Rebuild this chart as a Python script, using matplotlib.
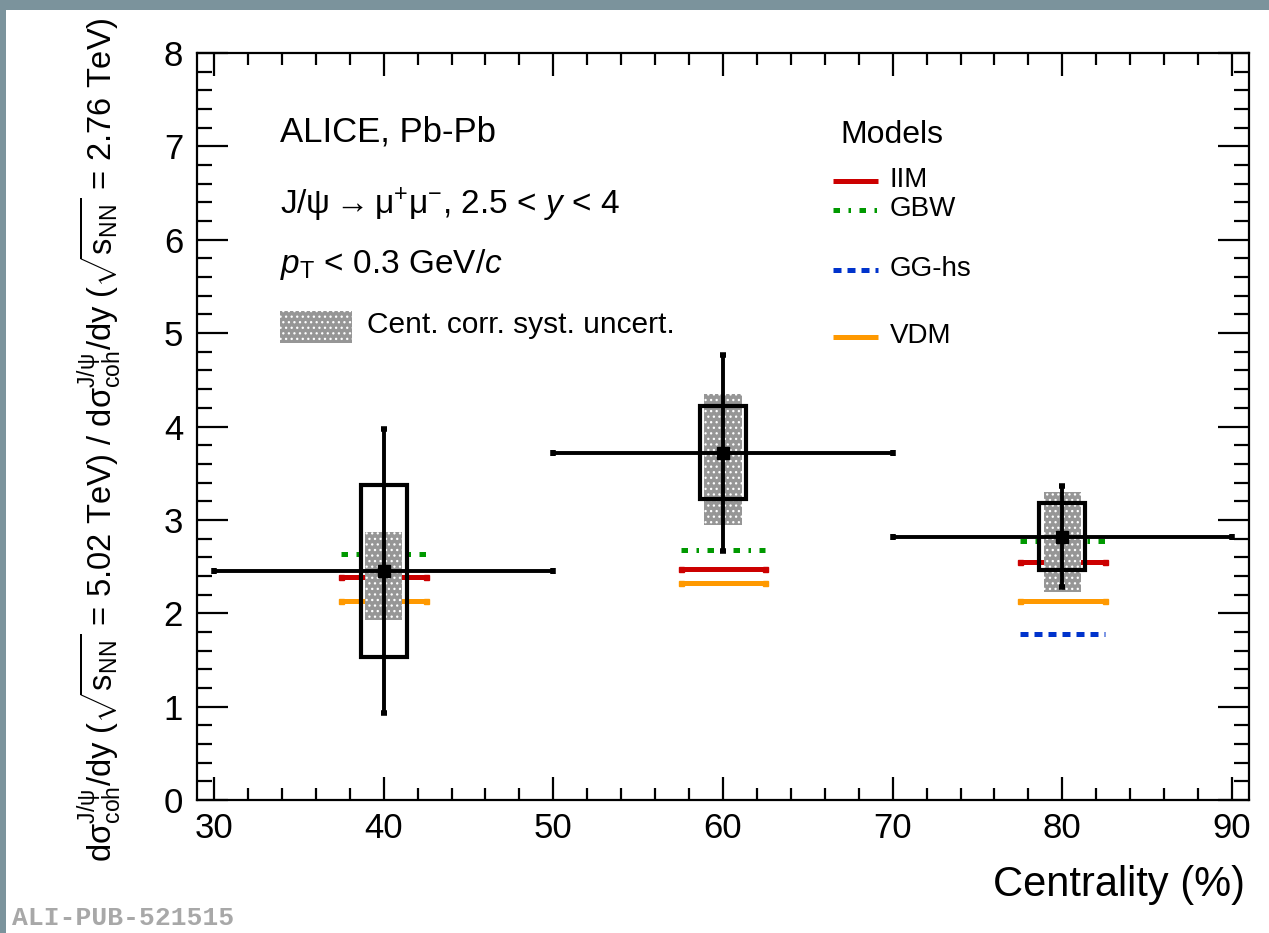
import numpy as np
import matplotlib
matplotlib.use("Agg")
import matplotlib.pyplot as plt
from matplotlib.patches import Rectangle
from matplotlib.ticker import MultipleLocator

# ---- data ----
centrality = [40, 60, 80]
bin_half = [10, 10, 10]
ratio = [2.45, 3.72, 2.82]
stat_err = [1.52, 1.05, 0.54]
syst_uncorr = [0.92, 0.50, 0.36]
syst_corr_up = [0.42, 0.63, 0.48]
syst_corr_dn = [0.52, 0.78, 0.59]

model_names = ["IIM", "GBW", "GG-hs", "VDM"]
model_iim = [2.39, 2.47, 2.55]
model_gbw = [2.63, 2.68, 2.77]
model_gghs = [np.nan, np.nan, 1.78]
model_vdm = [2.13, 2.32, 2.13]
model_half = 2.5

plt.rcParams['font.family'] = ['Liberation Sans', 'DejaVu Sans']
plt.rcParams['mathtext.fontset'] = 'custom'
plt.rcParams['mathtext.rm'] = 'Liberation Sans'
plt.rcParams['mathtext.it'] = 'Liberation Sans:italic'
plt.rcParams['mathtext.bf'] = 'Liberation Sans:bold'
plt.rcParams['hatch.linewidth'] = 0.9

W, H = 1269, 933
fig = plt.figure(figsize=(W / 100, H / 100), dpi=100)
fig.patch.set_facecolor('white')

# grey frame strips
fig.patches.append(Rectangle((0, 1 - 10 / H), 1, 10 / H, transform=fig.transFigure,
                             facecolor='#7b939c', edgecolor='none', zorder=0))
fig.patches.append(Rectangle((0, 0), 6 / W, 1, transform=fig.transFigure,
                             facecolor='#7b939c', edgecolor='none', zorder=0))

L, R, T, B = 197, 1249, 53, 800
ax = fig.add_axes([L / W, 1 - B / H, (R - L) / W, (B - T) / H])
ax.set_xlim(29, 91)
ax.set_ylim(0, 8)


def fx(px):
    return (px - L) / (R - L)


def fy(py):
    return (B - py) / (B - T)


GREY = '#969696'

# model styles
styles = {
    "IIM": dict(color='#cc0000', ls='-'),
    "GBW": dict(color='#009900', ls=(0, (1.3, 1.7, 0.5, 1.7))),
    "GG-hs": dict(color='#0033cc', ls=(0, (1.6, 1.2))),
    "VDM": dict(color='#ff9900', ls='-'),
}
model_vals = {"IIM": model_iim, "GBW": model_gbw, "GG-hs": model_gghs, "VDM": model_vdm}
for name in model_names:
    for c, v in zip(centrality, model_vals[name]):
        if np.isnan(v):
            continue
        ax.plot([c - model_half, c + model_half], [v, v], lw=3.6,
                solid_capstyle='butt', dash_capstyle='butt', zorder=2, **styles[name])
        if styles[name]['ls'] == '-':
            ax.plot([c - model_half, c + model_half], [v, v], ls='none', marker='s',
                    ms=3.6, color=styles[name]['color'], zorder=2)

# centrality-correlated systematics (grey stippled boxes)
for c, v, up, dn in zip(centrality, ratio, syst_corr_up, syst_corr_dn):
    ax.add_patch(Rectangle((c - 1.1, v - dn), 2.2, up + dn, facecolor=GREY,
                           edgecolor='white', hatch='...', lw=0, zorder=3))

# uncorrelated systematics (open boxes)
for c, v, s in zip(centrality, ratio, syst_uncorr):
    ax.add_patch(Rectangle((c - 1.35, v - s), 2.7, 2 * s, facecolor='none',
                           edgecolor='black', lw=3, zorder=4))

ax.errorbar(centrality, ratio, xerr=bin_half, yerr=stat_err, fmt='s', color='black',
            ms=9, elinewidth=2.8, capsize=2.5, capthick=4, zorder=5)

# axes style
ax.xaxis.set_major_locator(MultipleLocator(10))
ax.xaxis.set_minor_locator(MultipleLocator(2))
ax.yaxis.set_major_locator(MultipleLocator(1))
ax.yaxis.set_minor_locator(MultipleLocator(0.2))
ax.tick_params(which='both', direction='in', top=True, right=True, width=1.6,
               labelsize=25, color='black')
ax.tick_params(axis='x', which='major', length=16.5, pad=9)
ax.tick_params(axis='x', which='minor', length=8.6)
ax.tick_params(axis='y', which='major', length=22, pad=10)
ax.tick_params(axis='y', which='minor', length=11)
for sp in ax.spines.values():
    sp.set_linewidth(1.6)

fig.text(1245 / W, 1 - 885 / H, 'Centrality (%)', fontsize=30, ha='right', va='center')
fig.text(100 / W, 1 - 862 / H,
         r'$\mathrm{d\sigma^{J/\psi}_{coh}/dy\ (\sqrt{s_{NN}}\,=\,5.02\ TeV)\ /\ '
         r'd\sigma^{J/\psi}_{coh}/dy\ (\sqrt{s_{NN}}\,=\,2.76\ TeV)}$',
         fontsize=23.5, rotation=90, ha='center', va='bottom')

# labels inside the frame
ax.text(fx(280), fy(132), 'ALICE, Pb-Pb', transform=ax.transAxes, fontsize=25, va='center')
ax.text(fx(280), fy(205), r'J/$\mathrm{\psi \rightarrow \mu^{+}\mu^{-}}$, 2.5 < $y$ < 4',
        transform=ax.transAxes, fontsize=24, va='center')
ax.text(fx(280), fy(265), r'$p_{\mathrm{T}}$ < 0.3 GeV/$c$', transform=ax.transAxes,
        fontsize=24, va='center')
ax.add_patch(Rectangle((fx(280), fy(343)), fx(352) - fx(280), fy(311) - fy(343),
                       transform=ax.transAxes, facecolor=GREY, edgecolor='white',
                       hatch='...', lw=0, zorder=3))
ax.text(fx(367), fy(325), 'Cent. corr. syst. uncert.', transform=ax.transAxes,
        fontsize=21.5, va='center')

# model legend
ax.text(fx(840), fy(135), 'Models', transform=ax.transAxes, fontsize=23, va='center')
leg_y = {"IIM": 181, "GBW": 210, "GG-hs": 270, "VDM": 337}
for name in model_names:
    y = fy(leg_y[name])
    ax.plot([fx(833), fx(878)], [y, y], transform=ax.transAxes, lw=3.6,
            solid_capstyle='butt', dash_capstyle='butt', clip_on=False, **styles[name])
    ax.text(fx(890), y + 0.002, name, transform=ax.transAxes, fontsize=20, va='center')

fig.text(12 / W, 1 - 930 / H, 'ALI-PUB-521515', family='Liberation Mono',
         fontweight='bold', fontsize=19, color='#a8a8a8', ha='left', va='bottom')

fig.savefig('out.png', dpi=100)
